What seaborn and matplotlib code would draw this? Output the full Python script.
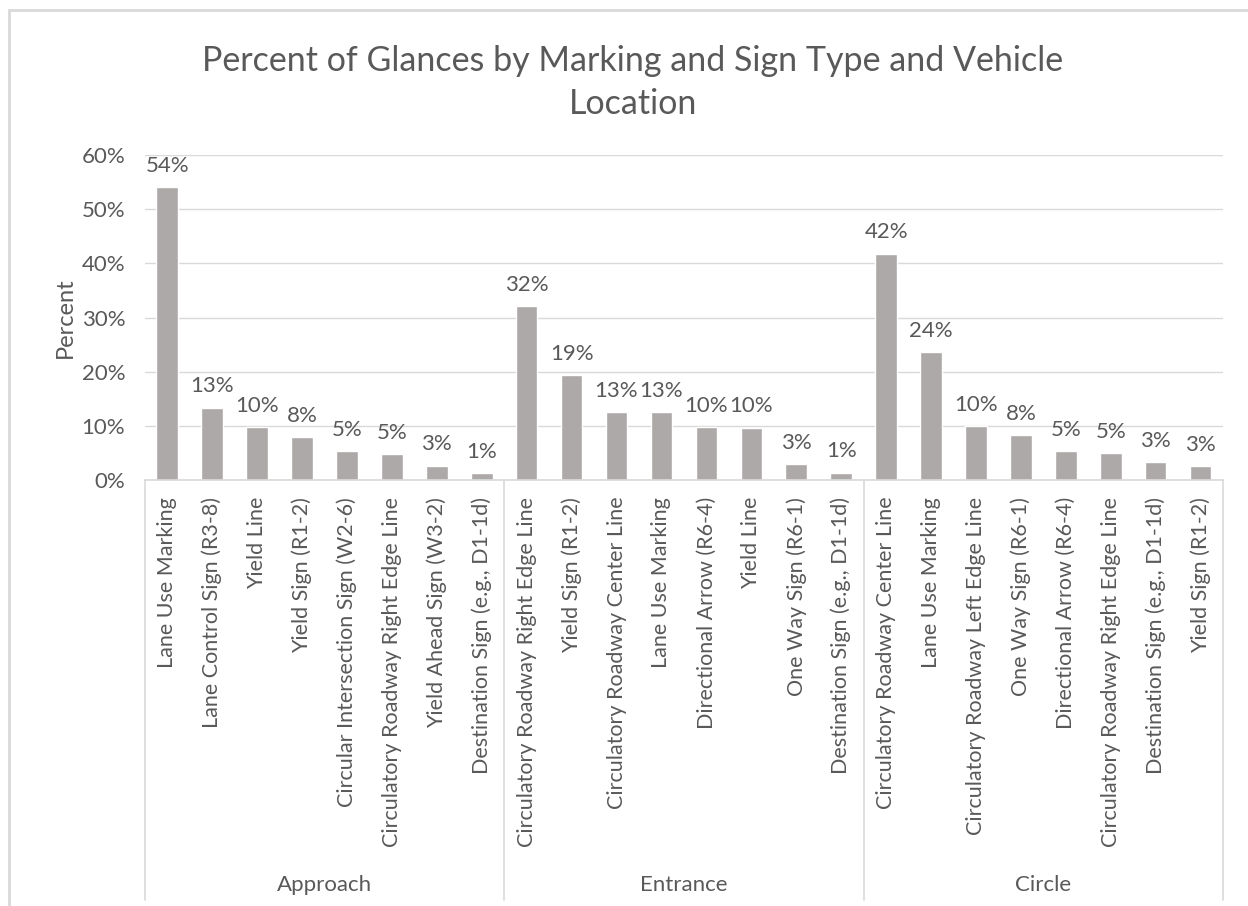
"""Percent of glances by marking/sign type and vehicle location (Excel-style grouped category bars)."""

import matplotlib

matplotlib.use("Agg")

import matplotlib.pyplot as plt
import pandas as pd
import seaborn as sns
from matplotlib.lines import Line2D
from matplotlib.patches import Rectangle
from matplotlib.ticker import PercentFormatter

GROUPS = ["Approach", "Entrance", "Circle"]

APPROACH_LABELS = [
    "Lane Use Marking",
    "Lane Control Sign (R3-8)",
    "Yield Line",
    "Yield Sign (R1-2)",
    "Circular Intersection Sign (W2-6)",
    "Circulatory Roadway Right Edge Line",
    "Yield Ahead Sign (W3-2)",
    "Destination Sign (e.g., D1-1d)",
]
APPROACH_VALUES = [54.1, 13.4, 9.8, 7.9, 5.3, 4.8, 2.7, 1.3]

ENTRANCE_LABELS = [
    "Circulatory Roadway Right Edge Line",
    "Yield Sign (R1-2)",
    "Circulatory Roadway Center Line",
    "Lane Use Marking",
    "Directional Arrow (R6-4)",
    "Yield Line",
    "One Way Sign (R6-1)",
    "Destination Sign (e.g., D1-1d)",
]
ENTRANCE_VALUES = [32.1, 19.4, 12.6, 12.6, 9.8, 9.7, 2.9, 1.4]

CIRCLE_LABELS = [
    "Circulatory Roadway Center Line",
    "Lane Use Marking",
    "Circulatory Roadway Left Edge Line",
    "One Way Sign (R6-1)",
    "Directional Arrow (R6-4)",
    "Circulatory Roadway Right Edge Line",
    "Destination Sign (e.g., D1-1d)",
    "Yield Sign (R1-2)",
]
CIRCLE_VALUES = [41.8, 23.7, 10.0, 8.3, 5.4, 5.0, 3.3, 2.6]

TEXT_COLOR = "#595959"
BAR_COLOR = "#ADA9A8"
GRID_COLOR = "#D9D9D9"

rows = []
for group, labels, values in [
    ("Approach", APPROACH_LABELS, APPROACH_VALUES),
    ("Entrance", ENTRANCE_LABELS, ENTRANCE_VALUES),
    ("Circle", CIRCLE_LABELS, CIRCLE_VALUES),
]:
    for label, value in zip(labels, values):
        rows.append({"group": group, "label": label, "key": f"{group}|{label}", "percent": value})
plot_df = pd.DataFrame(rows)

sns.set_style("white")
plt.rcParams["font.family"] = ["Lato", "DejaVu Sans"]

fig = plt.figure(figsize=(12.48, 9.06), dpi=100)
ax = fig.add_axes([0.116, 0.470, 0.864, 0.359])

sns.barplot(data=plot_df, x="key", y="percent", color=BAR_COLOR, width=0.48,
            saturation=1, ax=ax, order=list(plot_df["key"]))

ax.set_ylim(0, 60)
ax.set_xlim(-0.5, len(plot_df) - 0.5)
ax.set_yticks(range(0, 61, 10))
ax.yaxis.set_major_formatter(PercentFormatter(decimals=0))
ax.grid(True, axis="y", color=GRID_COLOR, linewidth=1)
ax.set_axisbelow(True)
for side in ["left", "right", "top"]:
    ax.spines[side].set_visible(False)
ax.spines["bottom"].set_color(GRID_COLOR)
ax.spines["bottom"].set_linewidth(1.2)

ax.set_xticks(range(len(plot_df)))
ax.set_xticklabels(plot_df["label"], rotation=90, va="top", ha="center")
ax.tick_params(axis="x", length=0, pad=12, labelsize=15.5, labelcolor=TEXT_COLOR)
ax.tick_params(axis="y", length=0, pad=14, labelsize=16, labelcolor=TEXT_COLOR)

ax.set_xlabel("")
ax.set_ylabel("Percent", fontsize=17, color=TEXT_COLOR, labelpad=4)

for patch, value in zip(ax.patches, plot_df["percent"]):
    ax.annotate(f"{value:.0f}%", (patch.get_x() + patch.get_width() / 2, patch.get_height()),
                xytext=(0, 8), textcoords="offset points", ha="center", va="bottom",
                fontsize=16, color=TEXT_COLOR)

# group separators and group labels below the category labels
trans = ax.get_xaxis_transform()
sep_bottom = -1.29
n_per_group = len(APPROACH_LABELS)
for i in range(len(GROUPS) + 1):
    xpos = i * n_per_group - 0.5
    ax.add_line(Line2D([xpos, xpos], [0, sep_bottom], transform=trans, color=GRID_COLOR,
                       linewidth=1.2, clip_on=False))
for i, group in enumerate(GROUPS):
    center = i * n_per_group + (n_per_group - 1) / 2
    ax.text(center, -1.245, group, transform=trans, ha="center", va="center",
            fontsize=16, color=TEXT_COLOR)

fig.suptitle("Percent of Glances by Marking and Sign Type and Vehicle\nLocation",
             x=0.507, y=0.95, fontsize=24.5, color=TEXT_COLOR, linespacing=1.42)

fig.add_artist(Rectangle((0.007, -0.01), 1.2, 0.999, transform=fig.transFigure,
                         fill=False, edgecolor=GRID_COLOR, linewidth=2))

fig.savefig("out.png", dpi=100)
